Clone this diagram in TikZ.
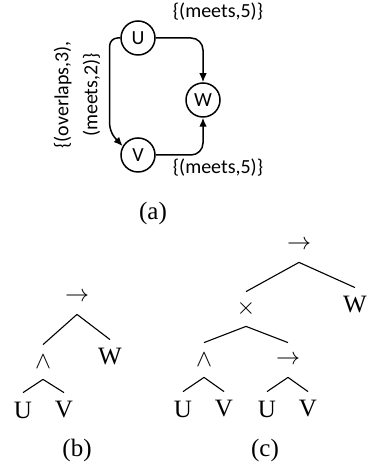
\documentclass[tikz,border=0pt]{standalone}
\usepackage{fontspec}
\setmainfont{Liberation Serif}
\newfontfamily\graphfont{Carlito}
\usetikzlibrary{arrows.meta,calc}

\begin{document}
\begin{tikzpicture}[x=0.5pt, y=0.5pt,
    state/.style={circle, draw, line width=0.75pt, minimum size=17pt, inner sep=0pt, font=\graphfont\fontsize{10}{12}\selectfont},
    lbl/.style={font=\graphfont\fontsize{10}{14.5}\selectfont, align=center, inner sep=0pt},
    arr/.style={-{Latex[length=4.5pt,width=3.8pt]}, line width=0.75pt, rounded corners=6pt},
    sym/.style={font=\fontsize{12.5}{15}\selectfont, inner sep=0pt, minimum height=17pt},
    branch/.style={line width=0.55pt},
    subcap/.style={font=\fontsize{12.5}{15}\selectfont, inner sep=0pt}
  ]
    \useasboundingbox (0,0) rectangle (366,469);

    % (a) the graph
    \node[state] (U) at (138,431) {U};
    \node[state] (V) at (138,314) {V};
    \node[state] (W) at (203,369) {W};
    \node[lbl] (lUW) at (218,457) {\{(meets,5)\}};
    \node[lbl] (lVW) at (218,301) {\{(meets,5)\}};
    \node[lbl, rotate=90] (lUV) at (77,374) {\{(overlaps,3),\\(meets,2)\}};

    \draw[arr] (U.east) -| (W.north);
    \draw[arr] (V.east) -| (W.south);
    \draw[arr, rounded corners=4pt] (U.west) -| ($(V.150)+(-13,14)$) -- (V.150);

    \node[subcap] (capa) at (153,256) {(a)};

    % (b) first tree
    \node[sym] (b0) at (77,172) {$\rightarrow$};
    \node[sym] (b1) at (43,107) {$\wedge$};
    \node[sym] (b2) at (110,112) {W};
    \node[sym] (b3) at (23,59) {U};
    \node[sym] (b4) at (64,59) {V};

    \draw[branch] (b0.south) -- (b1.north);
    \draw[branch] (b0.south) -- (b2.north);
    \draw[branch] (b1.south) -- (b3.north);
    \draw[branch] (b1.south) -- (b4.north);

    \node[subcap] (capb) at (77,19) {(b)};

    % (c) second tree
    \node[sym] (c0) at (299,224) {$\rightarrow$};
    \node[sym] (c1) at (246,160) {$\times$};
    \node[sym] (c2) at (355,164) {W};
    \node[sym] (c3) at (204,109) {$\wedge$};
    \node[sym] (c4) at (288,109) {$\rightarrow$};
    \node[sym] (c5) at (183,60) {U};
    \node[sym] (c6) at (224,60) {V};
    \node[sym] (c7) at (267,60) {U};
    \node[sym] (c8) at (308,60) {V};

    \draw[branch] (c0.south) -- (c1.north);
    \draw[branch] (c0.south) -- (c2.north);
    \draw[branch] (c1.south) -- (c3.north);
    \draw[branch] (c1.south) -- (c4.north);
    \draw[branch] (c3.south) -- (c5.north);
    \draw[branch] (c3.south) -- (c6.north);
    \draw[branch] (c4.south) -- (c7.north);
    \draw[branch] (c4.south) -- (c8.north);

    \node[subcap] (capc) at (265,19) {(c)};
\end{tikzpicture}
\end{document}
